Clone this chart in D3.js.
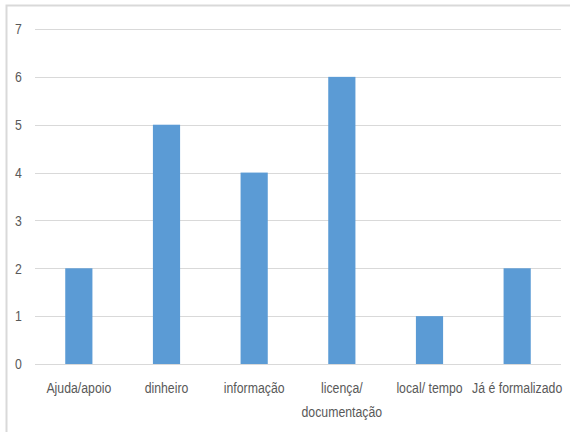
<!DOCTYPE html>
<html>
<head>
<meta charset="utf-8">
<script src="https://cdn.jsdelivr.net/npm/d3@7"></script>
<style>
  html, body { margin: 0; padding: 0; background: #fff; }
  svg text { font-family: "Liberation Sans", Arial, sans-serif; fill: #595959; }
</style>
</head>
<body>
<svg id="chart" width="570" height="432"></svg>
<script>
// Chart data
const categories = ["Ajuda/apoio", "dinheiro", "informação", "licença/\ndocumentação", "local/ tempo", "Já é formalizado"];
const values = [2, 5, 4, 6, 1, 2];
const yTicks = [0, 1, 2, 3, 4, 5, 6, 7];

const svg = d3.select("#chart");
const W = 570, H = 432;
const plot = { left: 35, right: 561, top: 29, bottom: 364 };
const narrow = 0.82; // horizontal squeeze for a condensed look

// Chart frame
svg.append("rect")
  .attr("x", 6.5).attr("y", 5.5)
  .attr("width", W + 10).attr("height", H + 10)
  .attr("fill", "#fff")
  .attr("stroke", "#d9d9d9").attr("stroke-width", 2);

const x = d3.scaleBand()
  .domain(categories)
  .range([plot.left, plot.right]);

const y = d3.scaleLinear()
  .domain([0, 7])
  .range([plot.bottom, plot.top]);

// Gridlines
svg.append("g")
  .selectAll("line")
  .data(yTicks)
  .join("line")
  .attr("x1", plot.left).attr("x2", plot.right)
  .attr("y1", d => Math.round(y(d)) + 0.5)
  .attr("y2", d => Math.round(y(d)) + 0.5)
  .attr("stroke", "#d9d9d9").attr("stroke-width", 1);

// Y axis labels
svg.append("g")
  .selectAll("text")
  .data(yTicks)
  .join("text")
  .attr("transform", d => `translate(18.5,${y(d)}) scale(${narrow},1)`)
  .attr("text-anchor", "middle")
  .attr("dy", "0.35em")
  .attr("font-size", 15)
  .text(d => d3.format("d")(d));

// Bars
const barW = x.bandwidth() * 0.31;
svg.append("g")
  .selectAll("rect")
  .data(values)
  .join("rect")
  .attr("x", (d, i) => x(categories[i]) + (x.bandwidth() - barW) / 2)
  .attr("y", d => y(d))
  .attr("width", barW)
  .attr("height", d => y(0) - y(d))
  .attr("fill", "#5b9bd5");

// Category labels
svg.append("g")
  .selectAll("text")
  .data(categories)
  .join("text")
  .attr("transform", d => `translate(${x(d) + x.bandwidth() / 2},393) scale(${narrow},1)`)
  .attr("text-anchor", "middle")
  .attr("font-size", 15)
  .each(function(d) {
    d3.select(this).selectAll("tspan")
      .data(d.split("\n"))
      .join("tspan")
      .attr("x", 0)
      .attr("dy", (l, i) => i === 0 ? 0 : 24)
      .text(l => l);
  });
</script>
</body>
</html>
